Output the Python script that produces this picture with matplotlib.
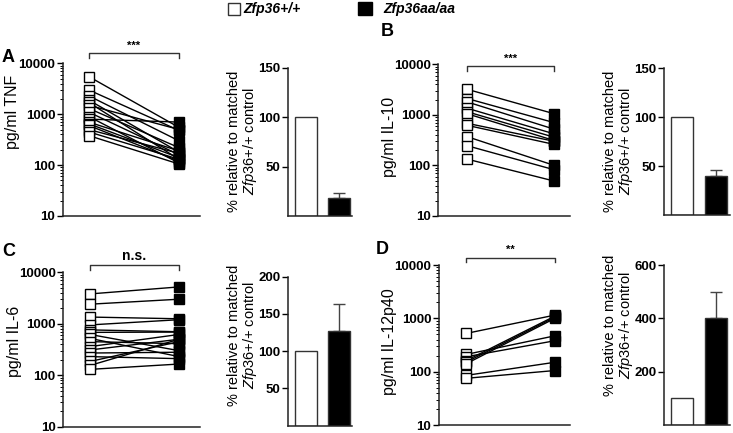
import matplotlib
matplotlib.use("Agg")
import matplotlib.pyplot as plt
from matplotlib.patches import Rectangle

plt.rcParams['font.family'] = ['Liberation Sans', 'DejaVu Sans']
plt.rcParams['mathtext.fontset'] = 'custom'
plt.rcParams['mathtext.rm'] = 'Liberation Sans'
plt.rcParams['mathtext.it'] = 'Liberation Sans:italic'

# ---------------- data ----------------
tnf_wt = [5500, 3000, 2300, 1900, 1700, 1500, 1300, 1100, 900, 800, 700, 650, 600, 500, 450, 380]
tnf_aa = [550, 480, 300, 180, 130, 500, 220, 160, 110, 700, 190, 140, 120, 170, 130, 105]

il10_wt = [3200, 2100, 1800, 1350, 1150, 1050, 680, 620, 370, 245, 133]
il10_aa = [1050, 700, 520, 420, 360, 310, 300, 260, 100, 82, 49]

il6_wt = [3800, 2400, 1350, 950, 760, 680, 620, 520, 450, 360, 310, 270, 230, 185, 155, 130]
il6_aa = [5200, 3000, 1250, 1200, 700, 690, 300, 230, 410, 620, 500, 280, 210, 450, 500, 165]

il12_wt = [520, 210, 190, 160, 150, 140, 85, 75]
il12_aa = [1150, 470, 380, 1100, 1050, 1000, 150, 105]

bar_groups = ['Zfp36+/+', 'Zfp36aa/aa']
tnf_pct = [100, 18]
tnf_err = [0, 5]
il10_pct = [100, 40]
il10_err = [0, 6]
il6_pct = [100, 127]
il6_err = [0, 37]
il12_pct = [100, 400]
il12_err = [0, 100]

log_ticks = [10, 100, 1000, 10000]
log_labels = ['10', '100', '1000', '10000']

# ---------------- figure ----------------
W, H = 733, 433
fig = plt.figure(figsize=(W / 100, H / 100), dpi=100)


def add_ax(x0, ytop, x1, ybot):
    return fig.add_axes([x0 / W, (H - ybot) / H, (x1 - x0) / W, (ybot - ytop) / H])


def style(ax):
    for s in ['top', 'right']:
        ax.spines[s].set_visible(False)
    for s in ['left', 'bottom']:
        ax.spines[s].set_linewidth(1.1)
        ax.spines[s].set_color('#222222')
    ax.tick_params(axis='x', length=0, labelbottom=False)
    ax.tick_params(axis='y', which='major', length=4, width=1, labelsize=9.5, pad=1.5)
    ax.tick_params(axis='y', which='minor', length=2, width=0.7)
    for lbl in ax.get_yticklabels():
        lbl.set_fontweight('bold')


def paired(ax, wt, aa, xlim, sig, bracket_y, sig_size):
    for a, b in zip(wt, aa):
        ax.plot([0, 1], [a, b], color='black', lw=1.0, zorder=2)
    ax.plot([0] * len(wt), wt, ls='none', marker='s', ms=7, mfc='white', mec='black', mew=1.0, zorder=3)
    ax.plot([1] * len(aa), aa, ls='none', marker='s', ms=7, mfc='black', mec='black', mew=1.0, zorder=3)
    ax.set_yscale('log')
    ax.set_ylim(10, 10000)
    ax.set_xlim(*xlim)
    ax.set_yticks(log_ticks)
    ax.set_yticklabels(log_labels)
    style(ax)
    tr = ax.get_xaxis_transform()
    ax.plot([0, 0, 1, 1], [bracket_y - 0.03, bracket_y, bracket_y, bracket_y - 0.03],
            color='#333333', lw=1.0, transform=tr, clip_on=False)
    ax.text(0.5, bracket_y + 0.015, sig, transform=tr, ha='center', va='bottom',
            fontsize=sig_size, fontweight='bold', clip_on=False)


def bars(ax, vals, errs, xlim, ylim, ticks, width):
    ax.bar([0, 1], vals, width=width, color=['white', 'black'], edgecolor='#333333', linewidth=1.0, zorder=2)
    ax.errorbar([1], [vals[1]], yerr=[[0], [errs[1]]], fmt='none', ecolor='#444444',
                elinewidth=1.0, capsize=4, capthick=1.0, zorder=1)
    ax.set_xlim(*xlim)
    ax.set_ylim(*ylim)
    ax.set_yticks(ticks)
    ax.set_yticklabels([str(t) for t in ticks])
    style(ax)


# Panel A
axA = add_ax(63, 63.3, 200, 216)
paired(axA, tnf_wt, tnf_aa, (-0.285, 1.233), '***', 1.067, 8)
axAb = add_ax(288, 67.7, 352, 216)
bars(axAb, tnf_pct, tnf_err, (-0.545, 1.39), (0, 150), [50, 100, 150], 0.667)

# Panel B
axB = add_ax(438.3, 64.3, 570, 216)
paired(axB, il10_wt, il10_aa, (-0.333, 1.18), '***', 0.989, 8)
axBb = add_ax(664.3, 68.3, 730, 215)
bars(axBb, il10_pct, il10_err, (-0.52, 1.42), (0, 150), [50, 100, 150], 0.647)

# Panel C
axC = add_ax(63.3, 272.3, 200, 426.7)
paired(axC, il6_wt, il6_aa, (-0.3, 1.236), 'n.s.', 1.047, 10)
axCb = add_ax(288.3, 276.7, 352, 425.6)
bars(axCb, il6_pct, il6_err, (-0.545, 1.39), (0, 200), [50, 100, 150, 200], 0.667)

# Panel D
axD = add_ax(439, 265, 570, 425)
paired(axD, il12_wt, il12_aa, (-0.303, 1.17), '**', 1.046, 8)
axDb = add_ax(664.3, 265, 730, 425)
bars(axDb, il12_pct, il12_err, (-0.52, 1.42), (0, 600), [200, 400, 600], 0.647)

# y labels (paired)
ylab_kw = dict(rotation=90, ha='center', va='center', fontsize=11.5)
fig.text(13 / W, 1 - 112 / H, 'pg/ml TNF', **ylab_kw)
fig.text(389 / W, 1 - 137 / H, 'pg/ml IL-10', **ylab_kw)
fig.text(15 / W, 1 - 341 / H, 'pg/ml IL-6', **ylab_kw)
fig.text(389 / W, 1 - 342 / H, 'pg/ml IL-12p40', **ylab_kw)

# y labels (bars)
bar_lab = '% relative to matched\n$\\it{Zfp36{+}/{+}}$ control'
blab_kw = dict(rotation=90, ha='center', va='center', fontsize=10.5, linespacing=1.0, multialignment='center')
fig.text(243 / W, 1 - 141 / H, bar_lab, **blab_kw)
fig.text(619 / W, 1 - 141 / H, bar_lab, **blab_kw)
fig.text(243 / W, 1 - 335 / H, bar_lab, **blab_kw)
fig.text(619 / W, 1 - 325 / H, bar_lab, **blab_kw)

# panel letters
let_kw = dict(fontsize=13, fontweight='bold', ha='center', va='center')
fig.text(8 / W, 1 - 58 / H, 'A', **let_kw)
fig.text(387 / W, 1 - 31 / H, 'B', **let_kw)
fig.text(9 / W, 1 - 251 / H, 'C', **let_kw)
fig.text(382 / W, 1 - 250 / H, 'D', **let_kw)

# legend
fig.add_artist(Rectangle((228 / W, 1 - 15 / H), 12 / W, 12 / H, transform=fig.transFigure,
                         facecolor='white', edgecolor='#333333', lw=1.0))
fig.text(243 / W, 1 - 8.5 / H, bar_groups[0], fontsize=10, fontweight='bold', fontstyle='italic',
         ha='left', va='center')
fig.add_artist(Rectangle((358 / W, 1 - 15 / H), 14 / W, 13 / H, transform=fig.transFigure,
                         facecolor='black', edgecolor='black', lw=1.0))
fig.text(383 / W, 1 - 8.5 / H, bar_groups[1], fontsize=10, fontweight='bold', fontstyle='italic',
         ha='left', va='center')

fig.savefig('out.png', dpi=100)
